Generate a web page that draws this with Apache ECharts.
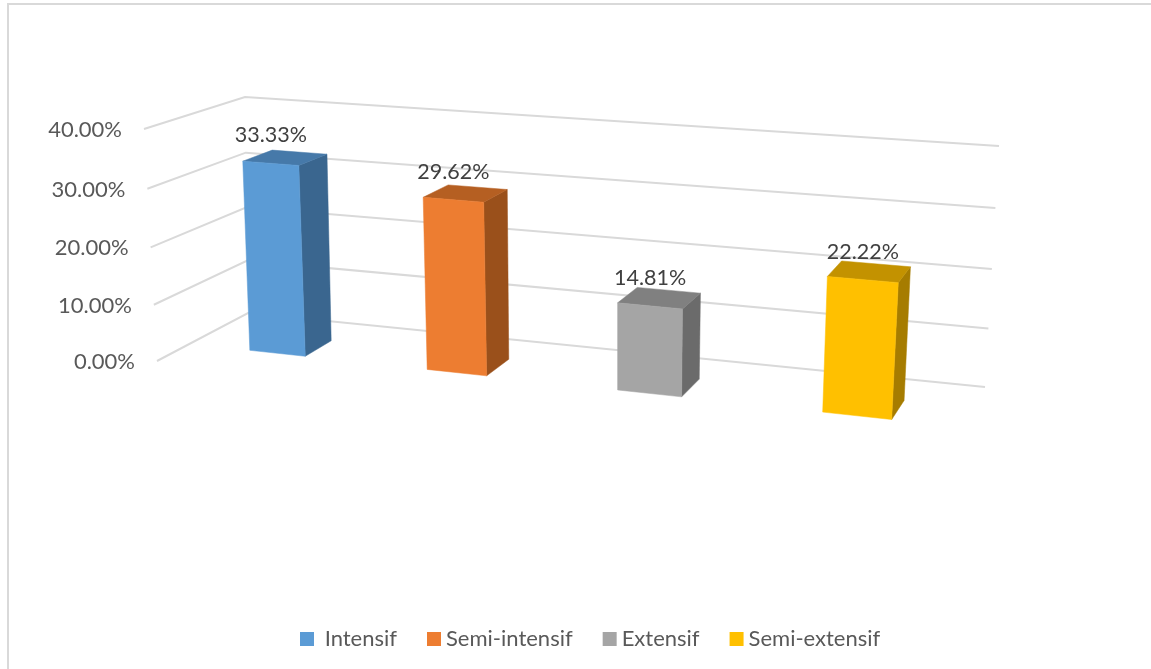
<!DOCTYPE html>
<html>
<head>
<meta charset="utf-8">
<style>html,body{margin:0;padding:0;background:#fff}#c{width:1151px;height:669px}</style>
<script src="https://cdn.jsdelivr.net/npm/echarts@6/dist/echarts.min.js"></script>
</head>
<body>
<div id="c"></div>
<script>
var categories = ['Intensif', 'Semi-intensif', 'Extensif', 'Semi-extensif'];
var values = [33.33, 29.62, 14.81, 22.22];
var valueLabels = ['33.33%', '29.62%', '14.81%', '22.22%'];
var tickValues = [0, 10, 20, 30, 40];
var tickLabels = ['0.00%', '10.00%', '20.00%', '30.00%', '40.00%'];
var frontColors = ['#5B9BD5', '#ED7D31', '#A5A5A5', '#FFC000'];
var topColors = ['#4679A9', '#B55F22', '#808080', '#C39200'];
var sideColors = ['#3A668F', '#9A501B', '#6B6B6B', '#A67C00'];

// Oblique view of the chart box: [x, y] of the floor and ceiling corners.
var floorQuad = [[157, 361], [951, 450], [985, 387], [248, 313]];
var ceilQuad = [[144, 129], [968, 190], [999, 146], [245, 97]];
var barFraction = 0.32, zFront = 0.34, zBack = 0.65, uShift = 0.004, heightPerspective = 0.96;
var labelFont = 'Lato, Carlito, sans-serif';

function squareToQuad(q) {
  var x0 = q[0][0], y0 = q[0][1], x1 = q[1][0], y1 = q[1][1], x2 = q[2][0], y2 = q[2][1], x3 = q[3][0], y3 = q[3][1];
  var dx1 = x1 - x2, dx2 = x3 - x2, sx = x0 - x1 + x2 - x3;
  var dy1 = y1 - y2, dy2 = y3 - y2, sy = y0 - y1 + y2 - y3;
  var den = dx1 * dy2 - dx2 * dy1;
  var g = (sx * dy2 - dx2 * sy) / den, h = (dx1 * sy - sx * dy1) / den;
  var a = x1 - x0 + g * x1, b = x3 - x0 + h * x3, d = y1 - y0 + g * y1, e = y3 - y0 + h * y3;
  return function (u, z) {
    var w = g * u + h * z + 1;
    return [(a * u + b * z + x0) / w, (d * u + e * z + y0) / w];
  };
}
var floorMap = squareToQuad(floorQuad), ceilMap = squareToQuad(ceilQuad);
// u: across, v: up, z: into the picture, each 0..1
function project(u, v, z) {
  var p = floorMap(u, z), q = ceilMap(u, z);
  var k = heightPerspective, t = v * k / (1 + (k - 1) * v);
  return [p[0] + (q[0] - p[0]) * t, p[1] + (q[1] - p[1]) * t];
}

function renderWall(params, api) {
  var cs = params.coordSys;
  var val = api.value(0);
  var v = (cs.y + cs.height - api.coord([0, val])[1]) / cs.height;
  var pts = [project(0, v, 0), project(0, v, 1), project(1, v, 1)];
  return {
    type: 'group',
    children: [
      { type: 'polyline', shape: { points: pts }, style: { stroke: '#D9D9D9', lineWidth: 2, fill: null } },
      { type: 'text', style: { x: pts[0][0] - 22, y: pts[0][1] + 1, text: tickLabels[params.dataIndex], align: 'right', verticalAlign: 'middle', font: '22px ' + labelFont, fill: '#595959' } }
    ]
  };
}

function barRenderer(i) {
  return function (params, api) {
    var cs = params.coordSys;
    var c = api.coord([api.value(0), api.value(1)]);
    var half = api.size([1, 0])[0] * barFraction / 2;
    var u0 = (c[0] - half - cs.x) / cs.width + uShift, u1 = (c[0] + half - cs.x) / cs.width + uShift;
    var v = (cs.y + cs.height - c[1]) / cs.height;
    var fb0 = project(u0, 0, zFront), fb1 = project(u1, 0, zFront), ft0 = project(u0, v, zFront), ft1 = project(u1, v, zFront);
    var bb1 = project(u1, 0, zBack), bt0 = project(u0, v, zBack), bt1 = project(u1, v, zBack);
    function face(points, color) {
      return { type: 'polygon', shape: { points: points }, style: { fill: color, stroke: color, lineWidth: 0.5 } };
    }
    return {
      type: 'group',
      children: [
        face([ft1, bt1, bb1, fb1], sideColors[i]),
        face([ft0, bt0, bt1, ft1], topColors[i]),
        face([fb0, ft0, ft1, fb1], frontColors[i]),
        { type: 'text', z2: 10, style: { x: (ft0[0] + ft1[0]) / 2, y: (ft0[1] + ft1[1]) / 2 - 28, text: valueLabels[i], align: 'center', verticalAlign: 'middle', font: '21.5px ' + labelFont, fill: '#404040' } }
      ]
    };
  };
}

var series = [{
  type: 'custom', name: 'wall', silent: true, z: 1,
  data: tickValues.map(function (t) { return [t]; }),
  encode: { y: 0 },
  renderItem: renderWall
}];
categories.forEach(function (name, i) {
  series.push({
    type: 'custom', name: name, z: 2 + i,
    itemStyle: { color: frontColors[i] },
    data: [[name, values[i]]],
    encode: { x: 0, y: 1 },
    renderItem: barRenderer(i)
  });
});

var chart = echarts.init(document.getElementById('c'), null, { renderer: 'canvas' });
chart.setOption({
  animation: false,
  backgroundColor: '#fff',
  grid: { left: 0, right: 0, top: 0, bottom: 0 },
  xAxis: { type: 'category', data: categories, show: false },
  yAxis: { type: 'value', min: 0, max: 40, interval: 10, show: false },
  legend: {
    data: categories,
    left: 295, top: 623,
    padding: 5,
    itemWidth: 14, itemHeight: 14, itemGap: 30,
    icon: 'rect',
    formatter: function (n) { return n === categories[0] ? ' ' + n : n; },
    textStyle: { fontFamily: labelFont, fontSize: 22, color: '#595959' }
  },
  graphic: [
    { type: 'polyline', silent: true, shape: { points: [[8, 669], [8, 4], [1151, 4]] }, style: { stroke: '#D9D9D9', lineWidth: 2, fill: null } }
  ],
  series: series
});
</script>
</body>
</html>
